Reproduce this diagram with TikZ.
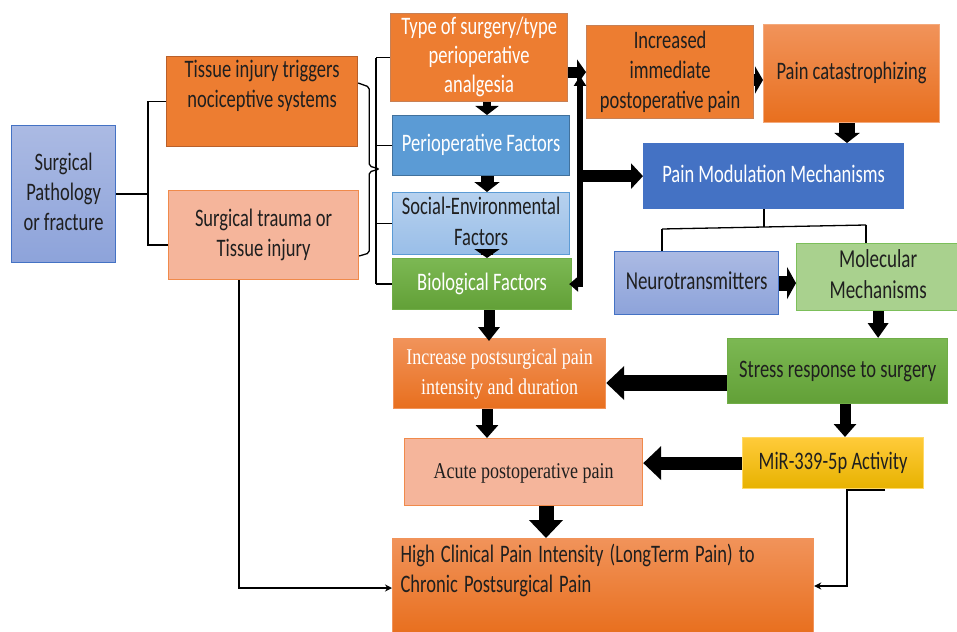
\documentclass[tikz,border=0pt]{standalone}
\usepackage{fontspec}
\usepackage{graphicx}
\setmainfont{Carlito}
\newfontfamily\tms{Liberation Serif}
\usetikzlibrary{arrows.meta,calc}
\definecolor{txt}{HTML}{1F1F1F}
\definecolor{orn}{HTML}{ED7D31}
\definecolor{ornb}{HTML}{B9602A}
\definecolor{salm}{HTML}{F5B59B}
\definecolor{salmb}{HTML}{F08A4B}
\definecolor{lavt}{HTML}{ABBAE3}
\definecolor{lavb}{HTML}{8DA3DA}
\definecolor{bluem}{HTML}{4472C4}
\definecolor{bluep}{HTML}{5B9BD5}
\definecolor{bluepb}{HTML}{41719C}
\definecolor{blst}{HTML}{B7D1EE}
\definecolor{blsb}{HTML}{99BEE8}
\definecolor{grt}{HTML}{7CB853}
\definecolor{grb}{HTML}{62A037}
\definecolor{grbd}{HTML}{70AD47}
\definecolor{grl}{HTML}{A9D18E}
\definecolor{grlb}{HTML}{7CBF5A}
\definecolor{ort}{HTML}{F1935A}
\definecolor{orb}{HTML}{E86F1E}
\definecolor{yet}{HTML}{FFCB3A}
\definecolor{yeb}{HTML}{E7B200}
\definecolor{yebd}{HTML}{FFD966}
% vertically stretched text blocks
\newcommand\vtc[1]{\scalebox{1}[1.36]{\begin{tabular}{@{}c@{}}#1\end{tabular}}}
\newcommand\vtl[1]{\scalebox{1}[1.36]{\begin{tabular}{@{}l@{}}#1\end{tabular}}}
\newcommand\vtt[1]{\scalebox{1}[1.25]{\begin{tabular}{@{}c@{}}#1\end{tabular}}}
\begin{document}
\begin{tikzpicture}[x=1pt,y=-1pt,
  box/.style={draw, line width=1.2pt, align=center, inner sep=0pt, anchor=north west, text=txt, font=\fontsize{18.5}{22}\selectfont},
  tbox/.style={box, font=\tms\fontsize{18}{24}\selectfont},
  conn/.style={line width=1.3pt, draw=black},
  thinarrow/.style={conn, -{Stealth[length=7pt,width=7pt]}},
  ba/.style n args={3}{line width=#1, draw=black, -{Triangle[width=#2,length=#3]}},
]
\useasboundingbox (0,0) rectangle (957,631);
\fill[white] (0,0) rectangle (957,631);

% nodes
\node[box, top color=lavt, bottom color=lavb, draw=bluem, minimum width=104pt, minimum height=137pt] (path) at (11,125) {\vtc{Surgical\\Pathology\\or fracture}};
\node[box, fill=orn, draw=ornb, minimum width=191pt, minimum height=88pt] (tissue) at (166,56) {\vtc{Tissue injury triggers\\nociceptive systems\\\strut}};
\node[box, fill=salm, draw=salmb, minimum width=190pt, minimum height=89pt] (trauma) at (168,190) {\vtc{Surgical trauma or\\Tissue injury}};
\node[box, fill=orn, draw=ornb!80, text=white, minimum width=177pt, minimum height=88pt, font=\fontsize{18.5}{21.3}\selectfont] (type) at (390,13) {\vtc{Type of surgery/type\\perioperative\\analgesia}};
\node[box, fill=bluep, draw=bluepb, text=white, minimum width=177pt, minimum height=60pt] (periop) at (392,115) {\vtc{Perioperative Factors}};
\node[box, top color=blst, bottom color=blsb, draw=bluep, minimum width=177pt, minimum height=52pt, font=\fontsize{18.5}{22.8}\selectfont] (social) at (392,192) {\vtc{Social-Environmental\\Factors}};
\node[box, top color=grt, bottom color=grb, draw=grbd, text=white, minimum width=179pt, minimum height=51pt] (bio) at (392,258) {\vtc{Biological Factors}};
\node[box, fill=orn, draw=ornb!80, minimum width=167pt, minimum height=93pt] (inc) at (586,25) {\vtc{Increased\\immediate\\postoperative pain}};
\node[box, top color=ort, bottom color=orb, draw=ort!80, minimum width=176pt, minimum height=98pt] (cat) at (763,24) {\vtc{Pain catastrophizing}};
\node[box, fill=bluem, draw=bluem, text=white, minimum width=260pt, minimum height=65pt] (pm) at (643,143) {\vtc{Pain Modulation Mechanisms}};
\node[box, top color=lavt, bottom color=lavb, draw=bluem, minimum width=164pt, minimum height=63pt, font=\fontsize{19}{22}\selectfont] (neuro) at (614,251) {\vtc{Neurotransmitters}};
\node[box, fill=grl, draw=grlb, minimum width=163pt, minimum height=67pt, font=\fontsize{19}{22.8}\selectfont] (mol) at (796,243) {\vtc{Molecular\\Mechanisms}};
\node[box, top color=grt, bottom color=grb, draw=grbd, minimum width=220pt, minimum height=65pt] (stress) at (727,338) {\vtc{Stress response to surgery}};
\node[tbox, top color=ort, bottom color=orb, draw=ort, text=white, minimum width=212pt, minimum height=70pt] (incr) at (393,338) {\vtt{Increase postsurgical pain\\intensity and duration}};
\node[tbox, fill=salm, draw=salmb, minimum width=238pt, minimum height=67pt] (acute) at (404,438) {\vtt{Acute postoperative pain}};
\node[box, top color=yet, bottom color=yeb, draw=yebd, minimum width=181pt, minimum height=51pt] (mir) at (742,437) {\vtc{MiR-339-5p Activity}};
\node[box, top color=ort, bottom color=orb, draw=ort, minimum width=421pt, minimum height=95pt, text width=405pt, align=left] (high) at (392,538) {\vtl{High Clinical Pain Intensity (LongTerm Pain) to\\Chronic Postsurgical Pain\\\strut}};

% helper coordinates
\coordinate (bk) at (148,245);
\coordinate (vl) at (376,0);
\coordinate (xa) at (487,0);
\coordinate (xb) at (489,0);
\coordinate (xc) at (546,0);
\coordinate (vx) at (580,76);
\coordinate (ya) at (0,80);
\coordinate (xd) at (847,0);
\coordinate (xp) at (764,0);
\coordinate (j1) at (764,227);
\coordinate (j2) at (662,229);
\coordinate (j3) at (866,225);
\coordinate (yb) at (0,383);
\coordinate (xe) at (845,0);
\coordinate (xt) at (239,0);
\coordinate (yh) at (0,588);
\coordinate (m1) at (885,490);
\coordinate (m2) at (847,490);
\coordinate (yk) at (0,586);

% bracket from Surgical Pathology
\draw[conn] (path.east) -- (path.east -| bk);
\draw[conn] (tissue.west) -| (bk) -- (bk -| trauma.west);

% brace joining the two boxes
\draw[conn, rounded corners=2pt] ($(tissue.north east)+(0,27)$) -- ++(11,4) -- ++(0,79) -- ++(10,3) -- ++(-10,3) -- ++(0,81) -- ++(-10,3);

% vertical line to factor column
\draw[conn] (vl |- type.west) -- (vl |- bio.west);
\draw[conn] (vl |- type.west) -- (type.west);
\draw[conn] (vl |- periop.west) -- (periop.west);
\draw[conn] (vl |- social.west) -- (social.west);
\draw[conn] (vl |- bio.west) -- (bio.west);

% column block arrows
\draw[ba={8pt}{23pt}{9pt}] (xa |- type.south) -- (xa |- periop.north);
\draw[ba={13pt}{25pt}{10pt}] (xa |- periop.south) -- (xa |- social.north);
\draw[ba={12pt}{25pt}{9pt}] (xa |- social.south) -- (xa |- bio.north);
\draw[ba={11pt}{21pt}{14pt}] (xb |- bio.south) -- ([yshift=-3pt]xb |- incr.north);
\draw[ba={11pt}{22pt}{13pt}] (xa |- incr.south) -- (xa |- acute.north);
\draw[ba={15pt}{33pt}{18pt}] (xc |- acute.south) -- (xc |- high.north);

% double thick arrow from biological factors
\draw[line width=5.5pt, {Triangle[width=15pt,length=9pt]}-{Triangle[width=12pt,length=10pt]}] ([xshift=-3pt]bio.east) -| (vx);
\draw[ba={11pt}{25pt}{9pt}] (type.east |- inc.west) -- (inc.west);
\draw[ba={12pt}{25pt}{12pt}] (vx |- pm.west) -- (pm.west);

% top right arrows
\draw[ba={12pt}{27pt}{8pt}] (inc.east |- ya) -- (cat.west |- ya);
\draw[ba={16pt}{25pt}{10pt}] (xd |- cat.south) -- (xd |- pm.north);

% modulation split
\draw[conn] (xp |- pm.south) -- (j1);
\draw[conn] (j2) -- (j3);
\draw[conn] (j2) -- (j2 |- neuro.north);
\draw[conn] (j3) -- (j3 |- mol.north);
\draw[ba={15pt}{32pt}{9pt}] (neuro.east) -- (neuro.east -| mol.west);
\draw[ba={11pt}{20pt}{15pt}] (mol.south) -- (mol.south |- stress.north);
\draw[ba={16pt}{33pt}{18pt}] (stress.west |- yb) -- (incr.east |- yb);
\draw[ba={11pt}{22pt}{13pt}] (xe |- stress.south) -- (xe |- mir.north);
\draw[ba={13pt}{33pt}{18pt}] (mir.west) -- (mir.west -| acute.east);

% thin connectors to the bottom box
\draw[thinarrow] (xt |- trauma.south) |- (high.west |- yh);
\draw[thinarrow] (m1) -- (m2) |- (high.east |- yk);
\end{tikzpicture}
\end{document}
